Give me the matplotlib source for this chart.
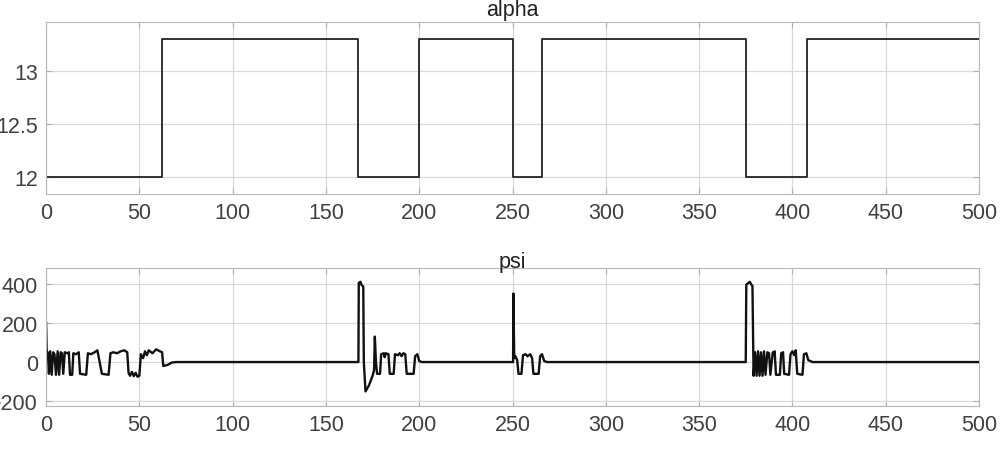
import matplotlib.pyplot as plt

plt.rcParams['font.family'] = ['Liberation Sans', 'DejaVu Sans']

# alpha: switching times and levels (step signal)
alpha_t = [0, 62, 167.4, 200, 250, 266, 375, 408, 500]
alpha_v = [12, 13.3, 12, 13.3, 12, 13.3, 12, 13.3, 13.3]

# psi: breakpoints
psi_t = [0, 0.3, 1.0, 1.5, 2.2, 3.0, 3.8, 4.5, 5.3, 6.2, 7.0, 7.8, 8.5, 9.2,
         10.0, 11.5, 12.2, 12.8, 14.0, 14.6, 16.0, 17.5, 18.2, 21.5, 22.4,
         24, 26, 27.5, 29.9, 33.5, 34.5, 36, 38, 40, 42, 43.5, 44.2, 45, 46,
         47, 48, 49, 50, 50.8, 52, 53, 54, 55, 57, 59, 61, 62.2, 62.8, 65,
         67.5, 70,
         167.4, 167.6, 168.5, 169.0, 170.0, 170.3, 171.2, 173, 175, 175.8,
         176.2, 176.8, 177.4, 179.0, 179.6, 181, 181.5, 182, 183.5, 184.2,
         186.3, 187, 188.5, 189.5, 190.5, 191.5, 192.5, 193.3, 197, 197.8,
         199, 200, 201.5,
         250.3, 250.5, 250.9, 251.5, 252.5, 253.2, 254.8, 255.6, 257, 258,
         259.5, 260.5, 261.2, 264.0, 264.8, 265.8, 267, 268.5,
         375.0, 375.3, 376.5, 377.2, 378.0, 378.6, 379.2, 380.0, 380.8,
         381.6, 382.4, 383.2, 384.0, 384.8, 385.6, 386.6, 387.5, 388.2,
         389.5, 390.0, 390.5, 391.2, 393.3, 394.0, 395.0, 395.6, 398.2,
         399.0, 400, 401, 401.8, 402.6, 405.4, 406.2, 407.5, 408.5, 410.8,
         500]
psi_v = [200, 60, 45, -60, 55, -65, 50, 40, -65, 55, -65, 50, 45, -60,
         50, 45, 50, -65, -65, 45, 40, 50, -60, -65, 45,
         40, 50, 60, -60, -65, 45, 50, 45, 55, 60, 50, -55, -70, -50,
         -72, -55, -75, -70, 40, 20, 55, 35, 60, 45, 65, 55, 50, -20, -15,
         -2, 0,
         0, 405, 410, 395, 385, 0, -150, -120, -70, -40,
         130, 0, -60, -60, 40, 45, 25, 45, 40, -60,
         -60, 40, 35, 45, 30, 45, 40, -60, -60, 30,
         40, 5, 0,
         0, 350, 20, 30, 10, -60, -60, 35, 40, 30,
         40, 20, -60, -60, 30, 40, 5, 0,
         0, 395, 405, 410, 395, 390, -70, 50, -70,
         55, -70, 50, -70, 55, -65, 50, 45, -65,
         50, 40, 55, -65, -65, 45, 50, -60, -65,
         40, 55, 35, 60, -60, -65, 40, 45, 10, 0,
         0]

fig = plt.figure(figsize=(10.02, 4.6), dpi=100)
ax1 = fig.add_axes([0.046, 0.576, 0.931, 0.374])
ax2 = fig.add_axes([0.046, 0.115, 0.931, 0.300])

ax1.step(alpha_t, alpha_v, where='post', color='#222222', lw=1.3)
ax2.plot(psi_t, psi_v, color='#111111', lw=1.7)

ax1.set_ylim(11.84, 13.46)
ax1.set_yticks([12, 12.5, 13])
ax1.set_yticklabels(['12', '12.5', '13'])
ax2.set_ylim(-225, 480)
ax2.set_yticks([-200, 0, 200, 400])

for ax, name, tpad in [(ax1, 'alpha', 5), (ax2, 'psi', 0.5)]:
    ax.set_xlim(0, 500)
    ax.set_xticks(range(0, 501, 50))
    ax.grid(True, color='#d9d9d9', lw=0.9)
    ax.set_axisbelow(True)
    ax.tick_params(direction='in', length=4, colors='#b0b0b0',
                   labelcolor='#404040', labelsize=15.5, pad=6,
                   top=True, right=True)
    for s in ax.spines.values():
        s.set_color('#b8b8b8')
    ax.set_title(name, fontsize=15.5, color='#222222', pad=tpad)

fig.savefig('out.png', dpi=100)
